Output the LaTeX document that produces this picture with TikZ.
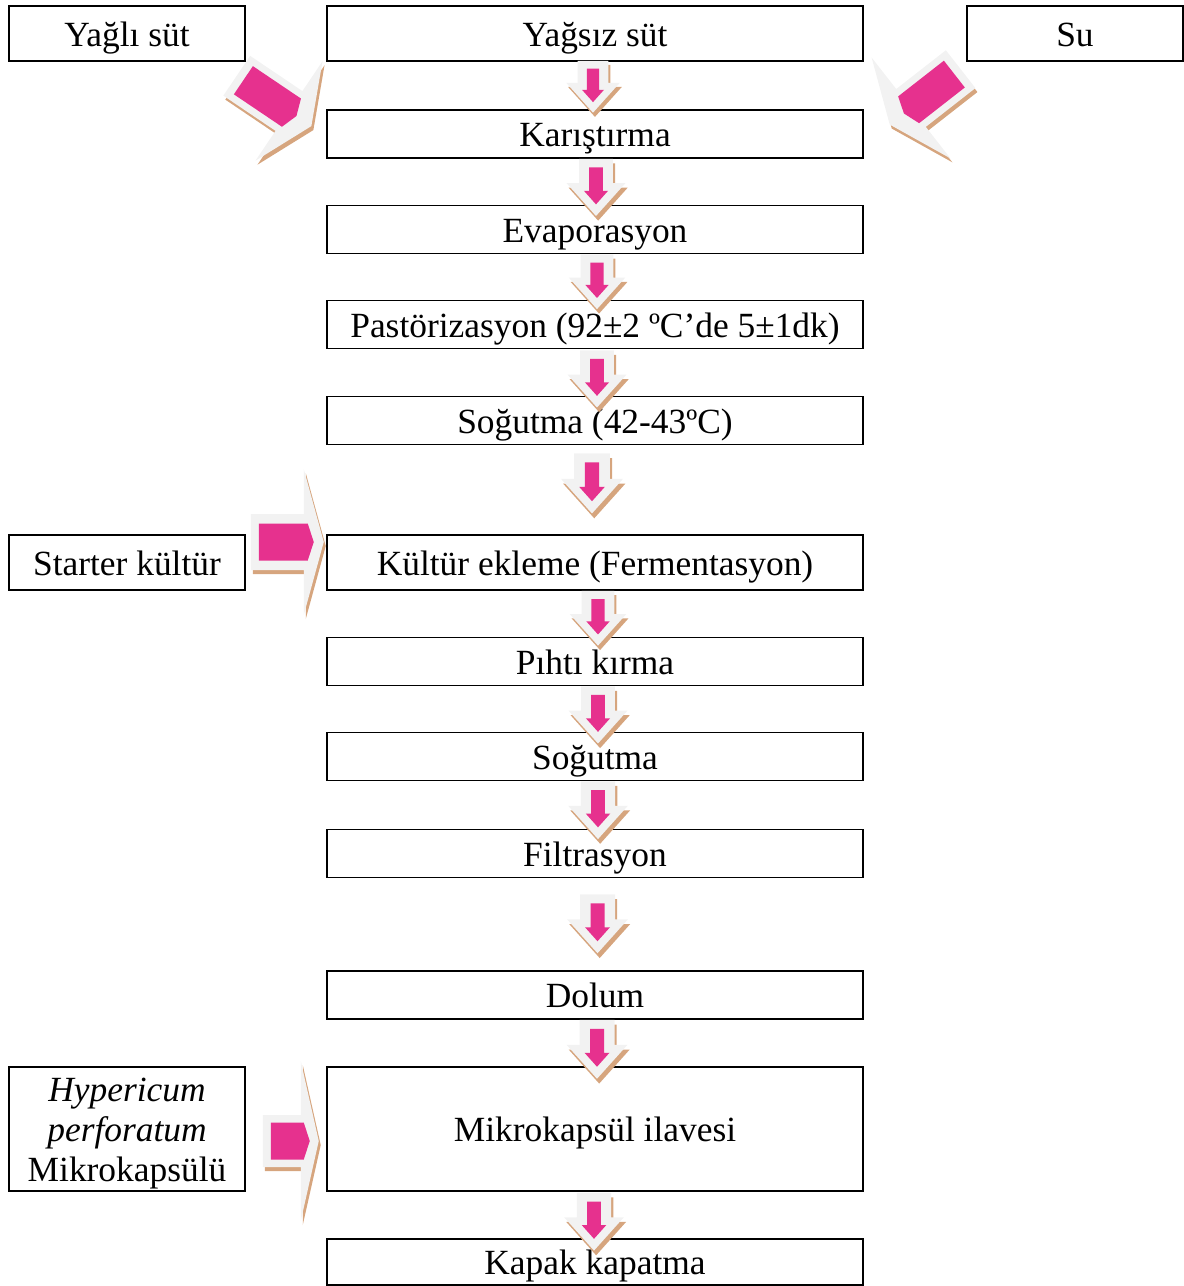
\documentclass[tikz,border=0pt]{standalone}
\usepackage{fontspec}
\setmainfont{Liberation Serif}
\usetikzlibrary{calc}

\definecolor{pinkarr}{HTML}{E6318E}
\definecolor{greyarr}{HTML}{F2F2F2}
\definecolor{tanarr}{HTML}{D6A57E}

% Aşağı blok ok: #1 üst orta nokta, #2 ölçek
\newcommand{\downarr}[2]{%
  \begin{scope}[shift={#1}, scale=#2]
    \fill[tanarr, shift={(2.2,4.8)}] (-17.5,0) -- (17.5,0) -- (17.5,25) -- (30.5,25) -- (0,59) -- (-30.5,25) -- (-17.5,25) -- cycle;
    \fill[greyarr] (-17.5,0) -- (17.5,0) -- (17.5,25) -- (30.5,25) -- (0,59) -- (-30.5,25) -- (-17.5,25) -- cycle;
    \fill[pinkarr] (-7,9) -- (7,9) -- (7,33) -- (12.5,33) -- (0,47) -- (-12.5,33) -- (-7,33) -- cycle;
  \end{scope}}

% Yan blok ok: #1 kuyruk, #2 açı, #3 gövde boyu, #4 gövde yarı eni,
% #5 baş yarı eni, #6 baş boyu, #7 pembe boy, #8 pembe yarı en
\newcommand{\sidearr}[8]{%
  \begin{scope}[shift={#1}]
    \fill[tanarr, shift={(2,4)}, rotate=#2] (0,-#4) -- (#3,-#4) -- (#3,-#5) -- ({#3+#6},0) -- (#3,#5) -- (#3,#4) -- (0,#4) -- cycle;
    \fill[greyarr, rotate=#2] (0,-#4) -- (#3,-#4) -- (#3,-#5) -- ({#3+#6},0) -- (#3,#5) -- (#3,#4) -- (0,#4) -- cycle;
    \fill[pinkarr, rotate=#2] (8,-#8) -- (#7,-#8) -- ({#7+6},0) -- (#7,#8) -- (8,#8) -- cycle;
  \end{scope}}

\begin{document}
\begin{tikzpicture}[x=0.5pt, y=-0.5pt,
    every node/.style={font=\fontsize{17.7}{20}\selectfont},
    stepbox/.style={draw, line width=0.75pt, fill=white, inner sep=0pt,
      text height=13pt, text depth=0.5pt,
      minimum width=268pt, minimum height=24pt},
    sidebox/.style={stepbox, minimum width=118pt, minimum height=27.5pt}]
    \useasboundingbox (0,0) rectangle (1184,1286);
    % Girdiler
    \node[sidebox] (yagli) at (127,33.5) {Yağlı süt};
    \node[stepbox, minimum height=27.5pt] (yagsiz) at (595,33.5) {Yağsız süt};
    \node[sidebox, minimum width=108pt] (su) at (1075,33.5) {Su};
    \node[sidebox] (starter) at (127,562.5) {Starter kültür};
    \node[draw, line width=0.75pt, fill=white, minimum width=118pt, minimum height=62pt] (hyper) at (127,1129) {};
    \node[align=center, inner sep=0pt] (hypertxt) at ($(hyper.center)+(0,5)$)
      {\textit{Hypericum}\\\textit{perforatum}\\Mikrokapsülü};
    % Ana akış
    \node[stepbox] (karistirma) at (595,134) {Karıştırma};
    \node[stepbox] (evap) at (595,229.5) {Evaporasyon};
    \node[stepbox] (pastor) at (595,324.5) {Pastörizasyon (92±2 ºC’de 5±1dk)};
    \node[stepbox] (sogutmaA) at (595,420.5) {Soğutma (42-43ºC)};
    \node[stepbox, minimum height=27.5pt] (kultur) at (595,562.5) {Kültür ekleme (Fermentasyon)};
    \node[stepbox] (pihti) at (595,661.5) {Pıhtı kırma};
    \node[stepbox] (sogutmaB) at (595,756.5) {Soğutma};
    \node[stepbox] (filtre) at (595,853.5) {Filtrasyon};
    \node[stepbox] (dolum) at (595,995) {Dolum};
    \node[stepbox, minimum height=62pt] (mikro) at (595,1129) {Mikrokapsül ilavesi};
    \node[stepbox, minimum height=23pt] (kapak) at (595,1262) {Kapak kapatma};
    % Aşağı oklar
    \downarr{($(yagsiz.south)+(-2,-1)$)}{0.88}
    \downarr{($(karistirma.south)+(1,0)$)}{0.97}
    \downarr{($(evap.south)+(2,0)$)}{0.93}
    \downarr{($(pastor.south)+(2,1)$)}{0.97}
    \downarr{($(sogutmaA.south)+(-3,8)$)}{1.02}
    \downarr{($(kultur.south)+(3,0)$)}{0.93}
    \downarr{($(pihti.south)+(3,0)$)}{0.97}
    \downarr{($(sogutmaB.south)+(3,0)$)}{0.98}
    \downarr{($(filtre.south)+(2.5,16)$)}{1.0}
    \downarr{($(dolum.south)+(2,0)$)}{1.0}
    \downarr{($(mikro.south)+(-1,1)$)}{0.98}
    % Yan oklar
    \sidearr{($(yagli.south east)+(-9,14)$)}{-34}{63}{24}{60}{27}{66}{17}
    \sidearr{($(su.south west)+(-5.6,7.4)$)}{-142}{63}{24}{64}{27}{66}{17}
    \sidearr{($(starter.east)+(5,-20.5)$)}{0}{53}{28}{73}{20}{57}{18.5}
    \sidearr{($(hyper.east)+(17,12)$)}{0}{38}{26}{80}{18}{41}{18.5}
\end{tikzpicture}
\end{document}
